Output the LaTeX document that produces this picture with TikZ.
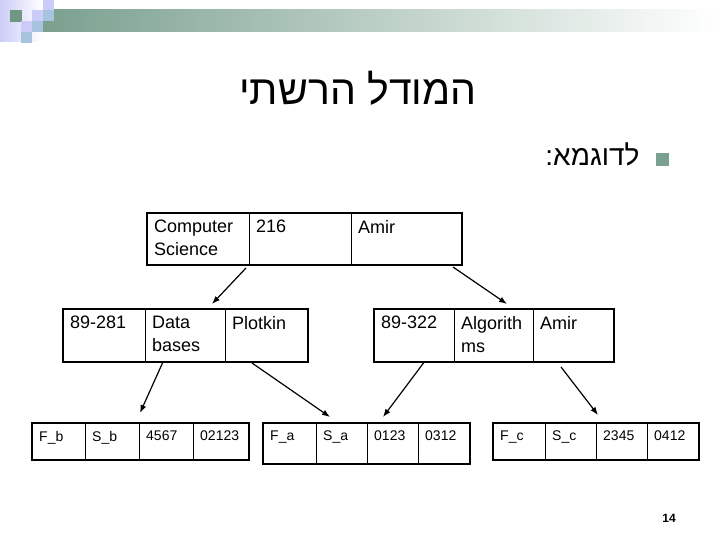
\documentclass[tikz,border=0pt]{standalone}
\usepackage{fontspec}
\setmainfont{Liberation Sans}
\newfontfamily\hebfont[Script=Hebrew]{Liberation Sans}
\TeXXeTstate=1
\usetikzlibrary{arrows.meta}

\definecolor{hdrgreen}{RGB}{122,160,142}
\definecolor{darksq}{RGB}{112,150,132}
\definecolor{lavsq}{RGB}{204,204,248}
\definecolor{bluesq}{RGB}{166,196,222}

\tikzset{
	cell/.style={draw, line width=1pt, anchor=north west, inner sep=0pt},
	txt/.style={anchor=north west, align=left, inner xsep=7pt, inner ysep=7pt, font=\fontsize{18}{23}\selectfont},
	smalltxt/.style={txt, inner ysep=8pt, font=\fontsize{14}{16}\selectfont},
	frame/.style={line width=2pt},
	ptr/.style={-{Latex[length=8pt,width=6pt]}, line width=1.2pt},
	bullet/.style={fill=hdrgreen, minimum size=13pt, inner sep=0pt, anchor=north west}
}

\begin{document}
\begin{tikzpicture}[x=1pt, y=-1pt]
			\useasboundingbox (0,0) rectangle (720,540);

			\shade[left color=lavsq, right color=white] (0,0) rectangle (42,42);
			\shade[left color=hdrgreen, right color=white] (43,10) rectangle (720,32);
			\fill[darksq] (10,10) rectangle (22,22);
			\fill[lavsq] (32,10) rectangle (43,21);
			\fill[lavsq] (43,0) rectangle (54,10);
			\fill[lavsq] (21,21) rectangle (32,32);
			\fill[bluesq] (43,10) rectangle (54,21);
			\fill[bluesq] (32,21) rectangle (43,32);
			\fill[bluesq] (21,32) rectangle (32,43);

			\node[font=\hebfont\fontsize{41}{48}\selectfont, anchor=base] (title) at (358,105) {\beginR המודל הרשתי\endR};
			\node[bullet] (bul) at (656,153) {};
			\node[font=\hebfont\fontsize{28}{32}\selectfont, anchor=base east] (example) at (643,166) {\beginR לדוגמא:\endR};

			\draw (147,213) node[cell, minimum width=102pt, minimum height=51pt] (cs) {};
			\draw (249,213) node[cell, minimum width=102pt, minimum height=51pt] (n216) {};
			\draw (351,213) node[cell, minimum width=110pt, minimum height=51pt] (amir1) {};
			\node[txt] (cs_t) at (cs.north west) {Computer\\Science};
			\node[txt] (n216_t) at (n216.north west) {216};
			\node[txt] (amir1_t) at (amir1.north west) {Amir};
			\draw[frame] (cs.north west) rectangle (amir1.south east);

			\draw (63,309) node[cell, minimum width=82pt, minimum height=52pt] (n89281) {};
			\draw (145,309) node[cell, minimum width=80pt, minimum height=52pt] (db) {};
			\draw (225,309) node[cell, minimum width=82pt, minimum height=52pt] (plot) {};
			\node[txt] (n89281_t) at (n89281.north west) {89-281};
			\node[txt] (db_t) at (db.north west) {Data\\bases};
			\node[txt] (plot_t) at (plot.north west) {Plotkin};
			\draw[frame] (n89281.north west) rectangle (plot.south east);

			\draw (374,309) node[cell, minimum width=80pt, minimum height=52pt] (n89322) {};
			\draw (454,309) node[cell, minimum width=79pt, minimum height=52pt] (alg) {};
			\draw (533,309) node[cell, minimum width=80pt, minimum height=52pt] (amir2) {};
			\node[txt] (n89322_t) at (n89322.north west) {89-322};
			\node[txt] (alg_t) at (alg.north west) {Algorith\\ms};
			\node[txt] (amir2_t) at (amir2.north west) {Amir};
			\draw[frame] (n89322.north west) rectangle (amir2.south east);

			\draw (32,423) node[cell, minimum width=53pt, minimum height=36pt] (fb) {};
			\draw (85,423) node[cell, minimum width=54pt, minimum height=36pt] (sb) {};
			\draw (139,423) node[cell, minimum width=54pt, minimum height=36pt] (n4567) {};
			\draw (193,423) node[cell, minimum width=55pt, minimum height=36pt] (n02123) {};
			\node[smalltxt] (fb_t) at (fb.north west) {F\_b};
			\node[smalltxt] (sb_t) at (sb.north west) {S\_b};
			\node[smalltxt] (n4567_t) at (n4567.north west) {4567};
			\node[smalltxt] (n02123_t) at (n02123.north west) {02123};
			\draw[frame] (fb.north west) rectangle (n02123.south east);

			\draw (263,423) node[cell, minimum width=53pt, minimum height=40pt] (fa) {};
			\draw (316,423) node[cell, minimum width=51pt, minimum height=40pt] (sa) {};
			\draw (367,423) node[cell, minimum width=51pt, minimum height=40pt] (n0123) {};
			\draw (418,423) node[cell, minimum width=51pt, minimum height=40pt] (n0312) {};
			\node[smalltxt] (fa_t) at (fa.north west) {F\_a};
			\node[smalltxt] (sa_t) at (sa.north west) {S\_a};
			\node[smalltxt] (n0123_t) at (n0123.north west) {0123};
			\node[smalltxt] (n0312_t) at (n0312.north west) {0312};
			\draw[frame] (fa.north west) rectangle (n0312.south east);

			\draw (493,423) node[cell, minimum width=52pt, minimum height=36pt] (fc) {};
			\draw (545,423) node[cell, minimum width=51pt, minimum height=36pt] (sc) {};
			\draw (596,423) node[cell, minimum width=51pt, minimum height=36pt] (n2345) {};
			\draw (647,423) node[cell, minimum width=51pt, minimum height=36pt] (n0412) {};
			\node[smalltxt] (fc_t) at (fc.north west) {F\_c};
			\node[smalltxt] (sc_t) at (sc.north west) {S\_c};
			\node[smalltxt] (n2345_t) at (n2345.north west) {2345};
			\node[smalltxt] (n0412_t) at (n0412.north west) {0412};
			\draw[frame] (fc.north west) rectangle (n0412.south east);

			\coordinate (to_db) at (212,304);
			\coordinate (to_alg) at (507,304);
			\coordinate (to_b) at (140,413);
			\coordinate (to_a1) at (330,417);
			\coordinate (to_a2) at (383,417);
			\coordinate (to_c) at (598,415);

			\draw[ptr] ([xshift=-4pt, yshift=-3pt]cs.south east) -- (to_db);
			\draw[ptr] ([xshift=-9pt, yshift=-2pt]amir1.south east) -- (to_alg);
			\draw[ptr] ([xshift=-23pt, yshift=-1pt]db.south) -- (to_b);
			\draw[ptr] ([xshift=27pt, yshift=-1pt]plot.south west) -- (to_a1);
			\draw[ptr] ([xshift=9pt, yshift=-1pt]n89322.south) -- (to_a2);
			\draw[ptr] ([xshift=28pt, yshift=-5pt]amir2.south west) -- (to_c);

			\node[font=\bfseries\fontsize{12}{14}\selectfont] (page) at (669,518) {14};
		\end{tikzpicture}
\end{document}
